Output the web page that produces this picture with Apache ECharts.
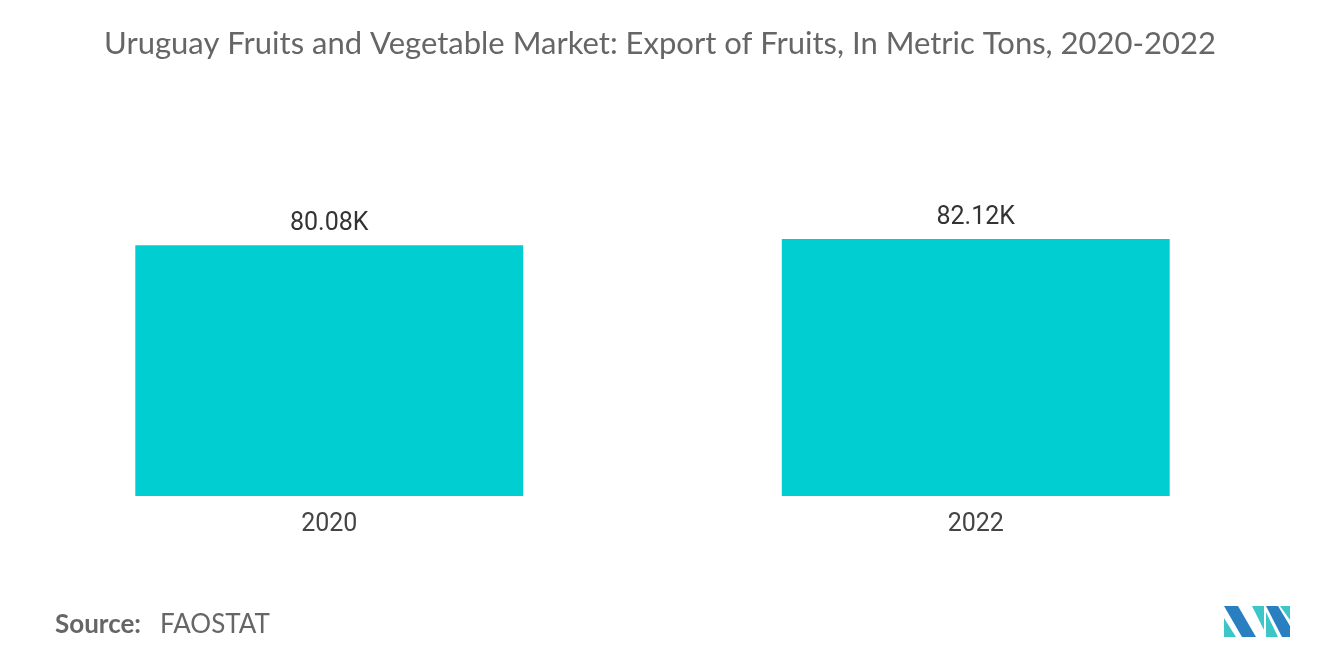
<!DOCTYPE html>
<html><head><meta charset="utf-8">
<script src="https://cdn.jsdelivr.net/npm/echarts@6/dist/echarts.min.js"></script>
<style>html,body{margin:0;padding:0;background:#fff}#c{width:1320px;height:665px}</style>
</head><body><div id="c"></div>
<script>
const categories = ['2020', '2022'];
const values = [80.08, 82.12];
const chart = echarts.init(document.getElementById('c'));
chart.setOption({
  animation: false,
  title: {text: 'Uruguay Fruits and Vegetable Market: Export of Fruits, In Metric Tons, 2020-2022', left: 'center', top: 23,
    textStyle: {fontFamily: 'Lato', fontWeight: 'normal', fontSize: 31, color: '#666'}},
  grid: {left: 6, right: 21, top: 183, bottom: 169},
  xAxis: {type: 'category', data: categories, axisLine: {show: false}, axisTick: {show: false},
    axisLabel: {fontFamily: 'Roboto', fontSize: 25, color: '#444', margin: 16}},
  yAxis: {type: 'value', min: 0, max: 100, show: false, splitLine: {show: false}},
  series: [{type: 'bar', data: values, barWidth: '60%', itemStyle: {color: '#00ced1'},
    label: {show: true, position: 'top', distance: 9, fontFamily: 'Roboto', fontSize: 25, color: '#333',
      formatter: p => p.value.toFixed(2) + 'K'}}],
  graphic: [
    {type: 'text', left: 55, top: 612, style: {text: 'Source:', fontFamily: 'Lato', fontSize: 26, fontWeight: 'bold', fill: '#666'}},
    {type: 'text', left: 160, top: 612, style: {text: 'FAOSTAT', fontFamily: 'Lato', fontSize: 26, fill: '#666'}},
    {type: 'polygon', shape: {points: [[1224,606],[1238,606],[1256,637],[1242,637]]}, style: {fill: '#2a7fc0'}},
    {type: 'polygon', shape: {points: [[1224,618],[1236,637],[1224,637]]}, style: {fill: '#3cc6c8'}},
    {type: 'polygon', shape: {points: [[1252,606],[1264,606],[1264,630]]}, style: {fill: '#3cc6c8'}},
    {type: 'polygon', shape: {points: [[1266,606],[1278,606],[1290,626],[1290,637],[1282,637]]}, style: {fill: '#2a7fc0'}},
    {type: 'polygon', shape: {points: [[1266,612],[1278,637],[1266,637]]}, style: {fill: '#3cc6c8'}},
    {type: 'polygon', shape: {points: [[1280,606],[1290,606],[1290,620]]}, style: {fill: '#3cc6c8'}}
  ]
});
</script></body></html>
